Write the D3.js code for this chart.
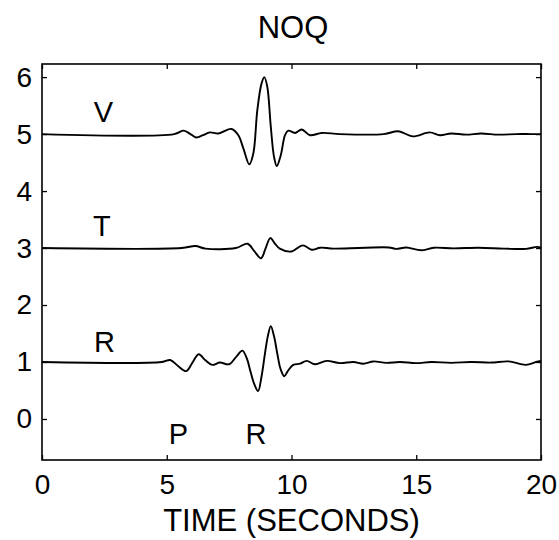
<!DOCTYPE html>
<html><head><meta charset="utf-8">
<script src="https://cdn.jsdelivr.net/npm/d3@7"></script>
<style>body{margin:0;background:#fff}svg{display:block}text{font-family:"Liberation Sans",Arial,Helvetica,sans-serif;fill:#000}</style>
</head><body>
<script>
const title = "NOQ";
const xLabel = "TIME (SECONDS)";
const xTicks = [0, 5, 10, 15, 20];
const yTicks = [0, 1, 2, 3, 4, 5, 6];
// trace V (offset 5): [time, value]
const traceV = [[0,5],[5.3,5],[5.68,5.06],[5.95,5.0],[6.18,4.94],[6.45,4.98],[6.73,5.03],[7.07,5.01],[7.6,5.09],[7.87,4.98],[8.07,4.75],[8.31,4.47],[8.47,4.66],[8.63,5.42],[8.8,5.89],[8.91,6.0],[9.03,5.83],[9.17,5.13],[9.3,4.6],[9.41,4.44],[9.57,4.63],[9.74,4.98],[9.87,5.06],[10.14,5.02],[10.41,5.08],[10.74,4.98],[11.21,5.02],[11.94,5.0],[13.7,5.0],[14.28,5.05],[14.86,4.96],[15.54,5.03],[15.95,4.98],[16.4,5.01],[17.0,4.99],[17.6,5.01],[18.3,4.99],[19.0,5.0],[19.6,5.0],[20,5.0]];
// trace T (offset 3)
const traceT = [[0,3],[5.6,3],[6.15,3.035],[6.55,2.99],[7.77,3.0],[8.24,3.076],[8.5,2.95],[8.78,2.82],[8.95,2.98],[9.15,3.175],[9.35,3.07],[9.53,2.99],[10.0,2.94],[10.45,3.047],[10.81,2.97],[11.15,3.006],[11.69,2.99],[13.9,3.01],[14.2,2.985],[14.6,3.01],[15.2,2.96],[15.7,3.005],[16.5,2.995],[17.5,3.005],[18.5,2.99],[19.4,2.985],[19.86,3.02],[20,3.0]];
// trace R (offset 1)
const traceR = [[0,1],[4.8,1],[5.14,1.035],[5.45,0.93],[5.78,0.84],[6.03,0.99],[6.28,1.135],[6.55,1.03],[6.82,0.95],[7.13,0.99],[7.5,0.96],[7.8,1.1],[8.03,1.2],[8.22,1.05],[8.34,0.86],[8.5,0.62],[8.66,0.49],[8.8,0.75],[8.94,1.16],[9.05,1.45],[9.17,1.63],[9.3,1.45],[9.43,1.15],[9.56,0.88],[9.71,0.75],[9.85,0.84],[10.07,0.95],[10.34,0.97],[10.61,1.02],[10.94,0.96],[11.41,1.02],[11.94,0.98],[12.48,1.0],[12.88,0.97],[13.28,1.01],[13.8,0.985],[14.35,1.0],[15.0,0.98],[15.6,1.0],[16.4,0.985],[17.2,1.0],[18.0,0.99],[18.7,1.01],[19.39,0.95],[19.8,1.0],[20,1.02]];
const traceLabels = [{t:"V",x:2.46,y:5.39},{t:"T",x:2.4,y:3.39},{t:"R",x:2.5,y:1.35}];
const phaseLabels = [{t:"P",x:5.47,y:-0.26},{t:"R",x:8.58,y:-0.26}];

const W = 559, H = 540;
const svg = d3.select("body").append("svg").attr("width", W).attr("height", H);
const x = d3.scaleLinear().domain([0, 20]).range([42, 541]);
const y = d3.scaleLinear().domain([-0.72, 6.23]).range([460, 64]);

// frame
svg.append("rect").attr("x", x(0)).attr("y", y(6.23)).attr("width", x(20) - x(0)).attr("height", y(-0.72) - y(6.23))
  .attr("fill", "none").attr("stroke", "#000").attr("stroke-width", 1.6);

const tl = 5;
const axB = svg.append("g").attr("transform", `translate(0,${y(-0.72)})`)
  .call(d3.axisBottom(x).tickValues(xTicks).tickSizeInner(-tl).tickSizeOuter(0).tickPadding(14).tickFormat(d3.format("d")));
const axT = svg.append("g").attr("transform", `translate(0,${y(6.23)})`)
  .call(d3.axisTop(x).tickValues(xTicks).tickSizeInner(-tl).tickSizeOuter(0).tickFormat(""));
const axL = svg.append("g").attr("transform", `translate(${x(0)},0)`)
  .call(d3.axisLeft(y).tickValues(yTicks).tickSizeInner(-tl).tickSizeOuter(0).tickPadding(10).tickFormat(d3.format("d")));
const axR = svg.append("g").attr("transform", `translate(${x(20)},0)`)
  .call(d3.axisRight(y).tickValues(yTicks).tickSizeInner(-tl).tickSizeOuter(0).tickFormat(""));
[axB, axT, axL, axR].forEach(a => {
  a.select(".domain").remove();
  a.selectAll("line").attr("stroke", "#000").attr("stroke-width", 1.3);
  a.selectAll("text").style("font-size", "28px").attr("fill", "#000")
    .style("font-family", '"Liberation Sans",Arial,sans-serif');
});
axB.selectAll("text").attr("dy", "0.71em");

const line = d3.line().x(d => x(d[0])).y(d => y(d[1])).curve(d3.curveCatmullRom.alpha(0.5));
[traceV, traceT, traceR].forEach(tr => {
  svg.append("path").datum(tr).attr("d", line).attr("fill", "none").attr("stroke", "#000").attr("stroke-width", 1.9);
});

svg.selectAll(".tlab").data(traceLabels.concat(phaseLabels)).enter().append("text")
  .attr("x", d => x(d.x)).attr("y", d => y(d.y)).attr("text-anchor", "middle").attr("dy", "0.36em")
  .style("font-size", "29px").text(d => d.t);

svg.append("text").attr("x", 293).attr("y", 38).attr("text-anchor", "middle").style("font-size", "31px").text(title);
svg.append("text").attr("x", x(10)).attr("y", 531).attr("text-anchor", "middle").style("font-size", "31px").text(xLabel);
</script>
</body></html>
